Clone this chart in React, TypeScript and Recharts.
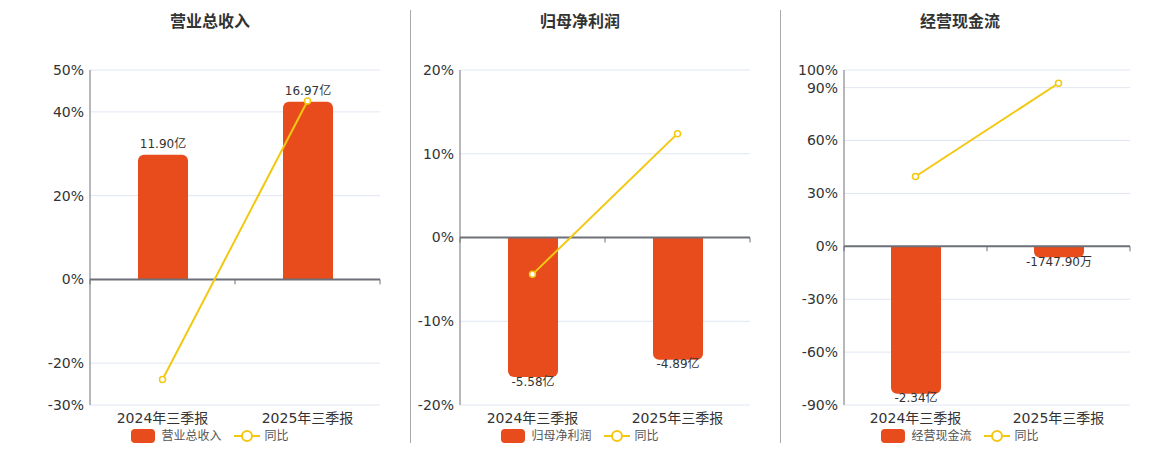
import React from "react";
import {
  ComposedChart, Bar, Line, XAxis, YAxis, CartesianGrid, ReferenceLine, LabelList,
} from "recharts";

const categories = ["2024年三季报", "2025年三季报"];

// 营业总收入 (亿)
const revenue = [11.9, 16.97];
const revenueLabels = ["11.90亿", "16.97亿"];
const revenueYoY = [-23.9, 42.6];
const revenueTicks = [-30, -20, 0, 20, 40, 50];

// 归母净利润 (亿)
const profit = [-5.58, -4.89];
const profitLabels = ["-5.58亿", "-4.89亿"];
const profitYoY = [-4.4, 12.4];
const profitTicks = [-20, -10, 0, 10, 20];

// 经营现金流 (亿)
const cashFlow = [-2.34, -0.174790];
const cashFlowLabels = ["-2.34亿", "-1747.90万"];
const cashFlowYoY = [39.6, 92.5];
const cashFlowTicks = [-90, -60, -30, 0, 30, 60, 90, 100];

const BAR = "#E84B1C";
const LINE = "#F2C811";
const AXIS = "#6E7079";
const FONT = "'DejaVu Sans', 'Noto Sans CJK SC', sans-serif";

const panels = [
  {
    title: "营业总收入", values: revenue, labels: revenueLabels, yoy: revenueYoY, ticks: revenueTicks,
    valDomain: [-12, 20], left: 0, width: 400, axisWidth: 90, center: 210,
  },
  {
    title: "归母净利润", values: profit, labels: profitLabels, yoy: profitYoY, ticks: profitTicks,
    valDomain: [-6.7, 6.7], left: 410, width: 360, axisWidth: 50, center: 580,
  },
  {
    title: "经营现金流", values: cashFlow, labels: cashFlowLabels, yoy: cashFlowYoY, ticks: cashFlowTicks,
    valDomain: [-2.52, 2.8], left: 780, width: 370, axisWidth: 64, center: 960,
  },
];

function BarLabel(props: any) {
  const { x, y, width, height, value } = props;
  const top = Math.min(y, y + height);
  const bottom = Math.max(y, y + height);
  const neg = String(value).startsWith("-");
  const ty = neg ? bottom + 5 : top - 10;
  return (
    <text x={x + width / 2} y={ty} textAnchor="middle" dominantBaseline="middle"
      fontSize={12} fill="#333" fontFamily={FONT}>
      {value}
    </text>
  );
}

function ZeroLine(props: any) {
  const { x1, x2, y1 } = props;
  const mid = (x1 + x2) / 2;
  return (
    <g>
      <line x1={x1} x2={x2} y1={y1} y2={y1} stroke={AXIS} strokeWidth={2} />
      {[x1, mid, x2].map((tx, i) => (
        <line key={i} x1={tx} x2={tx} y1={y1} y2={y1 + 5} stroke={AXIS} strokeWidth={1} />
      ))}
    </g>
  );
}

function Panel({ p }: { p: (typeof panels)[number] }) {
  const data = categories.map((name, i) => ({
    name, value: p.values[i], label: p.labels[i], yoy: p.yoy[i],
  }));
  const min = p.ticks[0];
  const max = p.ticks[p.ticks.length - 1];
  return (
    <>
      <div style={{
        position: "absolute", top: 12, left: p.center - 150, width: 300, textAlign: "center",
        fontSize: 16, fontWeight: "bold", color: "#333", lineHeight: "20px", fontFamily: FONT,
      }}>
        {p.title}
      </div>
      <div style={{ position: "absolute", top: 0, left: p.left }}>
        <ComposedChart width={p.width} height={450} data={data}
          margin={{ top: 70, right: 20, bottom: 15, left: 0 }}>
          <CartesianGrid yAxisId="pct" vertical={false} stroke="#E0E6F1" strokeDasharray="" />
          <XAxis dataKey="name" axisLine={false} tickLine={false} interval={0} height={30}
            tick={{ fontSize: 14, fill: "#333", fontFamily: FONT }} />
          <YAxis yAxisId="pct" width={p.axisWidth} domain={[min, max]} ticks={p.ticks}
            interval={0} tickLine={false} axisLine={{ stroke: AXIS }} tickMargin={0}
            tickFormatter={(v: number) => `${v}%`}
            tick={{ fontSize: 14, fill: "#333", fontFamily: FONT }} />
          <YAxis yAxisId="val" orientation="right" hide domain={p.valDomain} allowDataOverflow />
          <Bar yAxisId="val" dataKey="value" fill={BAR} barSize={50} radius={[6, 6, 0, 0]}
            isAnimationActive={false}>
            <LabelList dataKey="label" content={BarLabel} />
          </Bar>
          <ReferenceLine yAxisId="pct" y={0} shape={ZeroLine} />
          <Line yAxisId="pct" dataKey="yoy" stroke={LINE} strokeWidth={2}
            dot={{ r: 3, fill: "#fff", stroke: LINE, strokeWidth: 1.5 }}
            isAnimationActive={false} />
        </ComposedChart>
      </div>
      <div style={{
        position: "absolute", top: 428, left: p.center - 150, width: 300,
        display: "flex", justifyContent: "center", alignItems: "center",
        fontSize: 12, color: "#555", fontFamily: FONT, lineHeight: "16px",
      }}>
        <span style={{ display: "inline-block", width: 24, height: 14, borderRadius: 4, background: BAR, marginRight: 6 }} />
        <span style={{ marginRight: 12 }}>{p.title}</span>
        <svg width={26} height={14} style={{ marginRight: 5 }}>
          <line x1={0} x2={26} y1={7} y2={7} stroke={LINE} strokeWidth={2} />
          <circle cx={13} cy={7} r={5} fill="#fff" stroke={LINE} strokeWidth={2} />
        </svg>
        <span>同比</span>
      </div>
    </>
  );
}

export default function App() {
  return (
    <div style={{
      position: "absolute", left: 0, top: 0, width: 1160, height: 450,
      background: "#fff", fontFamily: FONT, overflow: "hidden",
    }}>
      {panels.map((p) => <Panel key={p.title} p={p} />)}
      <div style={{ position: "absolute", left: 410, top: 10, width: 1, height: 433, background: "#AAAAAA" }} />
      <div style={{ position: "absolute", left: 780, top: 10, width: 1, height: 433, background: "#AAAAAA" }} />
    </div>
  );
}
